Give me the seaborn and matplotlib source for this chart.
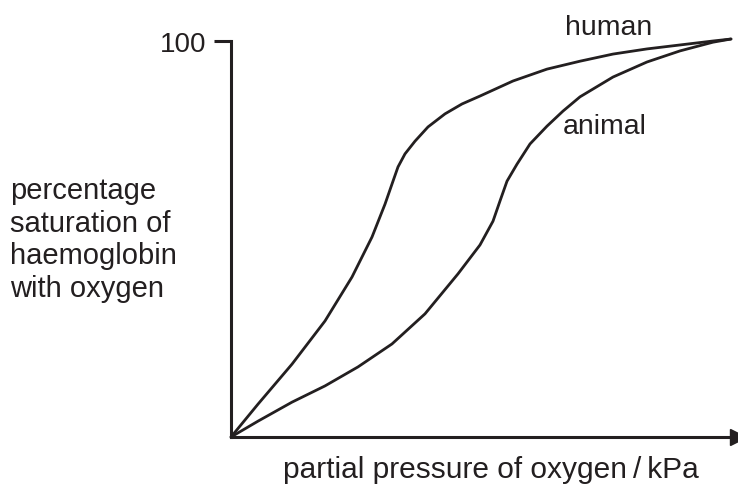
import numpy as np
import pandas as pd
import matplotlib
matplotlib.use("Agg")
import matplotlib.pyplot as plt
import seaborn as sns

# values (x: partial pressure 0..10, y: % saturation)
human_x = [0, 0.54, 1.22, 1.88, 2.42, 2.82, 3.08, 3.24, 3.34, 3.48, 3.68, 3.94,
           4.28, 4.62, 4.98, 5.64, 6.32, 6.98, 7.64, 8.32, 8.98, 9.64, 10]
human_y = [0, 8.3, 18.4, 29.3, 40.4, 50.5, 58.8, 64.6, 68.2, 71.5, 74.7, 78.3,
           81.6, 84.1, 86.1, 89.9, 92.9, 94.9, 96.7, 98.0, 99.0, 100, 100.5]
animal_x = [0, 0.54, 1.22, 1.88, 2.54, 3.22, 3.88, 4.54, 4.98, 5.24, 5.38, 5.52,
            5.72, 5.98, 6.32, 6.64, 6.98, 7.64, 8.32, 8.98, 9.64, 10]
animal_y = [0, 4.0, 8.8, 12.9, 17.7, 23.5, 31.1, 41.2, 48.5, 54.5, 59.6, 64.6,
            68.9, 74.0, 78.5, 82.3, 85.9, 90.9, 94.7, 97.5, 99.7, 100.5]

df = pd.concat([
    pd.DataFrame({"x": human_x, "y": human_y, "curve": "human"}),
    pd.DataFrame({"x": animal_x, "y": animal_y, "curve": "animal"}),
])

sns.set_style("white")
plt.rcParams['font.family'] = ['Liberation Sans', 'DejaVu Sans']
INK = "#231f20"

fig = plt.figure(figsize=(7.38, 4.85), dpi=100)
ax = fig.add_axes([231/738, 47/485, 507/738, 396/485])

sns.lineplot(data=df, x="x", y="y", hue="curve", palette=[INK, INK],
             estimator=None, sort=False, linewidth=2.0, legend=False, ax=ax)
for ln in ax.lines:
    ln.set_solid_joinstyle("round")
    ln.set_clip_on(False)

ax.set_xlim(0, 10.14)
ax.set_ylim(0, 100)
for s in ["top", "right"]:
    ax.spines[s].set_visible(False)
for s in ["left", "bottom"]:
    ax.spines[s].set_linewidth(2.2)
    ax.spines[s].set_color(INK)
    ax.spines[s].set_capstyle("projecting")

ax.set_xticks([])
ax.set_yticks([100])
ax.set_yticklabels(["100"])
ax.tick_params(axis="y", length=12, width=2.2, color=INK, pad=6,
               labelsize=20, labelcolor=INK, left=True)
ax.set_xlabel("")
ax.set_ylabel("")

# arrow head on x axis
ax.plot([1.0], [0], marker=">", markersize=11, color=INK,
        transform=ax.transAxes, clip_on=False)

fig.text(565/738, 1 - 28/485, "human", fontsize=20.5, color=INK, va="center")
fig.text(563/738, 1 - 127/485, "animal", fontsize=20.5, color=INK, va="center")

fig.text(10/738, 1 - 240/485,
         "percentage\nsaturation of\nhaemoglobin\nwith oxygen",
         fontsize=21, color=INK, va="center", ha="left", linespacing=1.2)
fig.text(491/738, 1 - 470/485, "partial pressure of oxygen\u2009/\u2009kPa",
         fontsize=21.5, color=INK, va="center", ha="center")

fig.savefig("out.png", dpi=100)
